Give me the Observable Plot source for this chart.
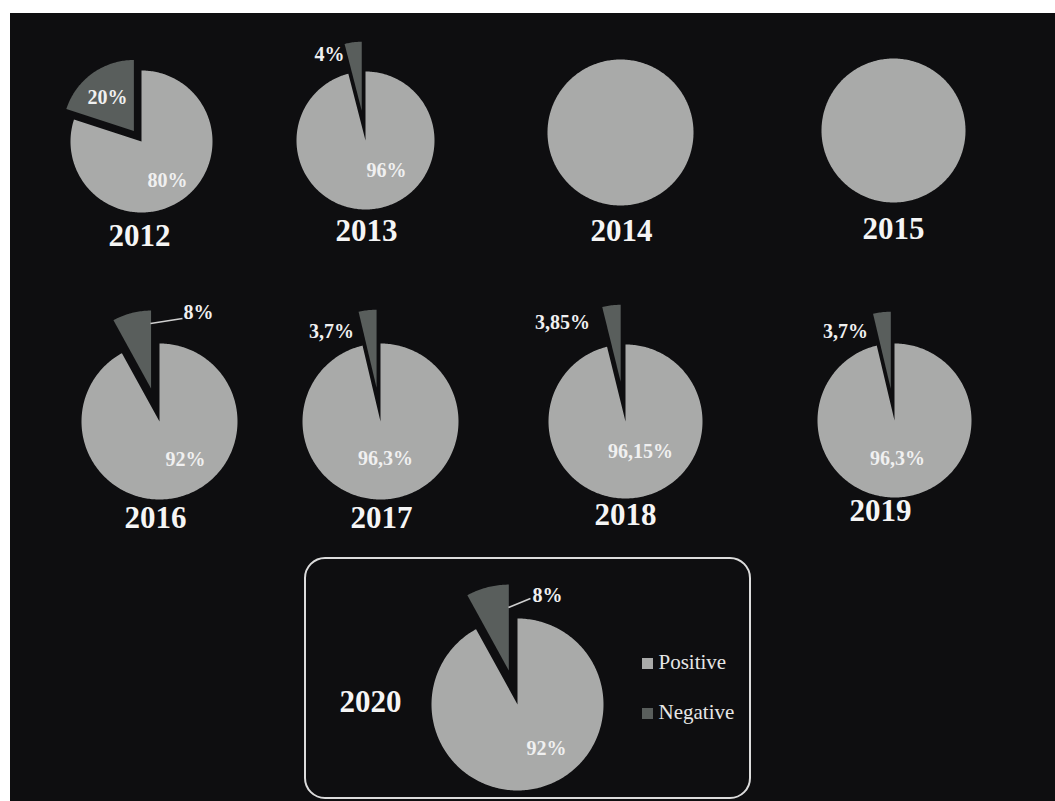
<!DOCTYPE html>
<html><head><meta charset="utf-8">
<script src="https://cdn.jsdelivr.net/npm/d3@7"></script>
<script src="https://cdn.jsdelivr.net/npm/@observablehq/plot@0.6"></script>
<style>
html,body{margin:0;padding:0;background:#fff;width:1055px;height:801px;overflow:hidden;}
#bg{position:absolute;left:10px;top:13px;width:1045px;height:788px;background:#0e0e10;}
#chart{position:absolute;left:0;top:0;}
</style></head><body><div id="bg"></div><div id="chart"></div>
<script>
// ---- data ----
const years = ["2012","2013","2014","2015","2016","2017","2018","2019","2020"];
const positive = [80, 96, 100, 100, 92, 96.3, 96.15, 96.3, 92];
const negative = [20, 4, 0, 0, 8, 3.7, 3.85, 3.7, 8];
const categories = ["Positive", "Negative"];

// ---- styles ----
const colors = ["#a9aaa9", "#595e5c"];
const serif = "'Liberation Serif', 'Times New Roman', serif";

// ---- layout (pixel positions of each pie and its labels) ----
const layout = [
  {cx:141, cy:141, r:71, explode:13, year:[139,236], pos:[167,180], neg:[107,97]},
  {cx:365, cy:140, r:69, explode:30, year:[366,231], pos:[386,170], neg:[329,54]},
  {cx:620, cy:132, r:73, explode:0,  year:[621,231], pos:null, neg:null},
  {cx:893, cy:130, r:72, explode:0,  year:[893,229], pos:null, neg:null},
  {cx:159, cy:421, r:78, explode:34, year:[155,518], pos:[185,459], neg:[198,312]},
  {cx:380, cy:421, r:78, explode:34, year:[381,518], pos:[385,458], neg:[331,331]},
  {cx:625, cy:421, r:77, explode:40, year:[625,515], pos:[640,451], neg:[562,322]},
  {cx:894, cy:420, r:77, explode:32, year:[880,511], pos:[897,458], neg:[845,331]},
  {cx:517, cy:704, r:86, explode:35, year:[370,702], pos:[546,748], neg:[547,595]}
];
const leaders = [
  {x1:150, y1:323, x2:182, y2:318},
  {x1:508, y1:607, x2:530, y2:598}
];
const box = {x1:305, x2:750, y1:558, y2:798};
const legendPos = {x:642, y:658, size:11, gap:50, textX:658};

const fmt = v => String(v).replace(".", ",") + "%";

// ---- build slices from values ----
const pie = d3.pie().sort(null).value(d => d.value);
const slicePts = [];
const pctLabels = [];
years.forEach((yr, i) => {
  const L = layout[i];
  const arcs = pie([{cat:"Positive", value:positive[i]}, {cat:"Negative", value:negative[i]}]);
  arcs.forEach(a => {
    const v = a.data.value;
    if (v <= 0) return;
    const cat = a.data.cat;
    const mid = (a.startAngle + a.endAngle) / 2;
    const off = cat === "Negative" ? L.explode : 0;
    const ox = L.cx + off * Math.sin(mid), oy = L.cy - off * Math.cos(mid);
    const id = yr + cat;
    const span = a.endAngle - a.startAngle;
    const full = span >= 2 * Math.PI - 1e-9;
    if (!full) slicePts.push({id, cat, x:ox, y:oy});
    const n = Math.max(2, Math.ceil(span / (Math.PI / 180)));
    for (let k = 0; k <= n; k++) {
      const t = a.startAngle + span * k / n;
      slicePts.push({id, cat, x: ox + L.r * Math.sin(t), y: oy - L.r * Math.cos(t)});
    }
    const p = cat === "Positive" ? L.pos : L.neg;
    if (p && !full) pctLabels.push({x:p[0], y:p[1], text:fmt(v)});
  });
});

const chart = Plot.plot({
  width:1055, height:801, margin:0,
  x:{domain:[0,1055], range:[0,1055], axis:null},
  y:{domain:[0,801], range:[0,801], axis:null},
  color:{domain:categories, range:colors},
  style:{background:"transparent", overflow:"visible"},
  marks:[
    Plot.rect([0], {x1:box.x1, x2:box.x2, y1:box.y1, y2:box.y2, fill:"none", stroke:"#dcdcdc", strokeWidth:2, rx:20}),
    Plot.line(slicePts, {x:"x", y:"y", z:"id", fill:"cat", stroke:"none", curve:"linear-closed"}),
    Plot.link(leaders, {x1:"x1", y1:"y1", x2:"x2", y2:"y2", stroke:"#cfcfcf", strokeWidth:1.6}),
    Plot.text(pctLabels, {x:"x", y:"y", text:"text", fill:"#f0f0f0", fontSize:20, fontWeight:"bold", fontFamily:serif}),
    Plot.text(years, {x:(d,i)=>layout[i].year[0], y:(d,i)=>layout[i].year[1], text:d=>d, fill:"#f5f5f5", fontSize:31, fontWeight:"bold", fontFamily:serif}),
    Plot.rect(categories, {x1:legendPos.x, x2:legendPos.x + legendPos.size,
      y1:(d,i)=>legendPos.y + i*legendPos.gap, y2:(d,i)=>legendPos.y + i*legendPos.gap + legendPos.size, fill:d=>d}),
    Plot.text(categories, {x:legendPos.textX, y:(d,i)=>legendPos.y + 4 + i*legendPos.gap, text:d=>d, textAnchor:"start",
      fill:"#e6e6e6", fontSize:21, fontFamily:serif})
  ]
});
document.getElementById("chart").appendChild(chart);
</script></body></html>
